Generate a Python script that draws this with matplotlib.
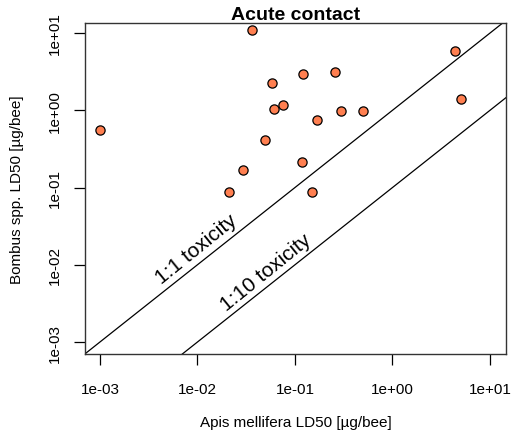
import matplotlib
matplotlib.use("Agg")
import matplotlib.pyplot as plt
import numpy as np

# LD50 values [ug/bee]
apis_ld50 = [0.001, 0.0366, 4.33, 0.12, 0.256, 0.058, 0.061, 0.076, 0.30,
             0.495, 0.17, 5.07, 0.0497, 0.119, 0.0293, 0.021, 0.15]
bombus_ld50 = [0.55, 10.8, 5.8, 2.93, 3.1, 2.27, 1.03, 1.16, 0.98,
               0.98, 0.74, 1.39, 0.41, 0.217, 0.169, 0.088, 0.088]

ticks = [1e-3, 1e-2, 1e-1, 1e0, 1e1]
tick_labels = ["1e-03", "1e-02", "1e-01", "1e+00", "1e+01"]
ratios = [1, 10]
ratio_labels = ["1:1 toxicity", "1:10 toxicity"]
label_pos = [(0.0098, 0.0160), (0.051, 0.0080)]

plt.rcParams['font.family'] = ['Liberation Sans', 'DejaVu Sans']

fig = plt.figure(figsize=(5.13, 4.35), dpi=100)
ax = fig.add_axes([85 / 513, 80 / 435, 421 / 513, 331 / 435])

xlim = (10 ** -3.153, 10 ** 1.164)
ylim = (10 ** -3.155, 10 ** 1.13)

# reference lines
xx = np.array(xlim)
for r in ratios:
    ax.plot(xx, xx / r, color='black', lw=0.9, zorder=1)

ax.scatter(apis_ld50, bombus_ld50, s=44, c='#FF7F50', edgecolors='black',
           linewidths=0.9, zorder=3)

for txt, (tx, ty) in zip(ratio_labels, label_pos):
    ax.text(tx, ty, txt, fontsize=15, rotation=39, ha='center', va='center',
            rotation_mode='anchor')

ax.set_xscale('log')
ax.set_yscale('log')
ax.set_xlim(xlim)
ax.set_ylim(ylim)
ax.minorticks_off()
ax.set_xticks(ticks)
ax.set_xticklabels(tick_labels)
ax.set_yticks(ticks)
ax.set_yticklabels(tick_labels, rotation=90, va='center')
ax.tick_params(length=8, width=0.9, labelsize=11, pad=12)
ax.tick_params(axis='y', pad=9)
for sp in ax.spines.values():
    sp.set_linewidth(1.0)
    sp.set_color('#333333')

ax.set_title("Acute contact", fontsize=14, fontweight='bold', pad=1)
ax.set_xlabel("Apis mellifera LD50 [µg/bee]", fontsize=11, labelpad=14)
ax.set_ylabel("Bombus spp. LD50 [µg/bee]", fontsize=11, labelpad=17)

fig.savefig("out.png", dpi=100)
